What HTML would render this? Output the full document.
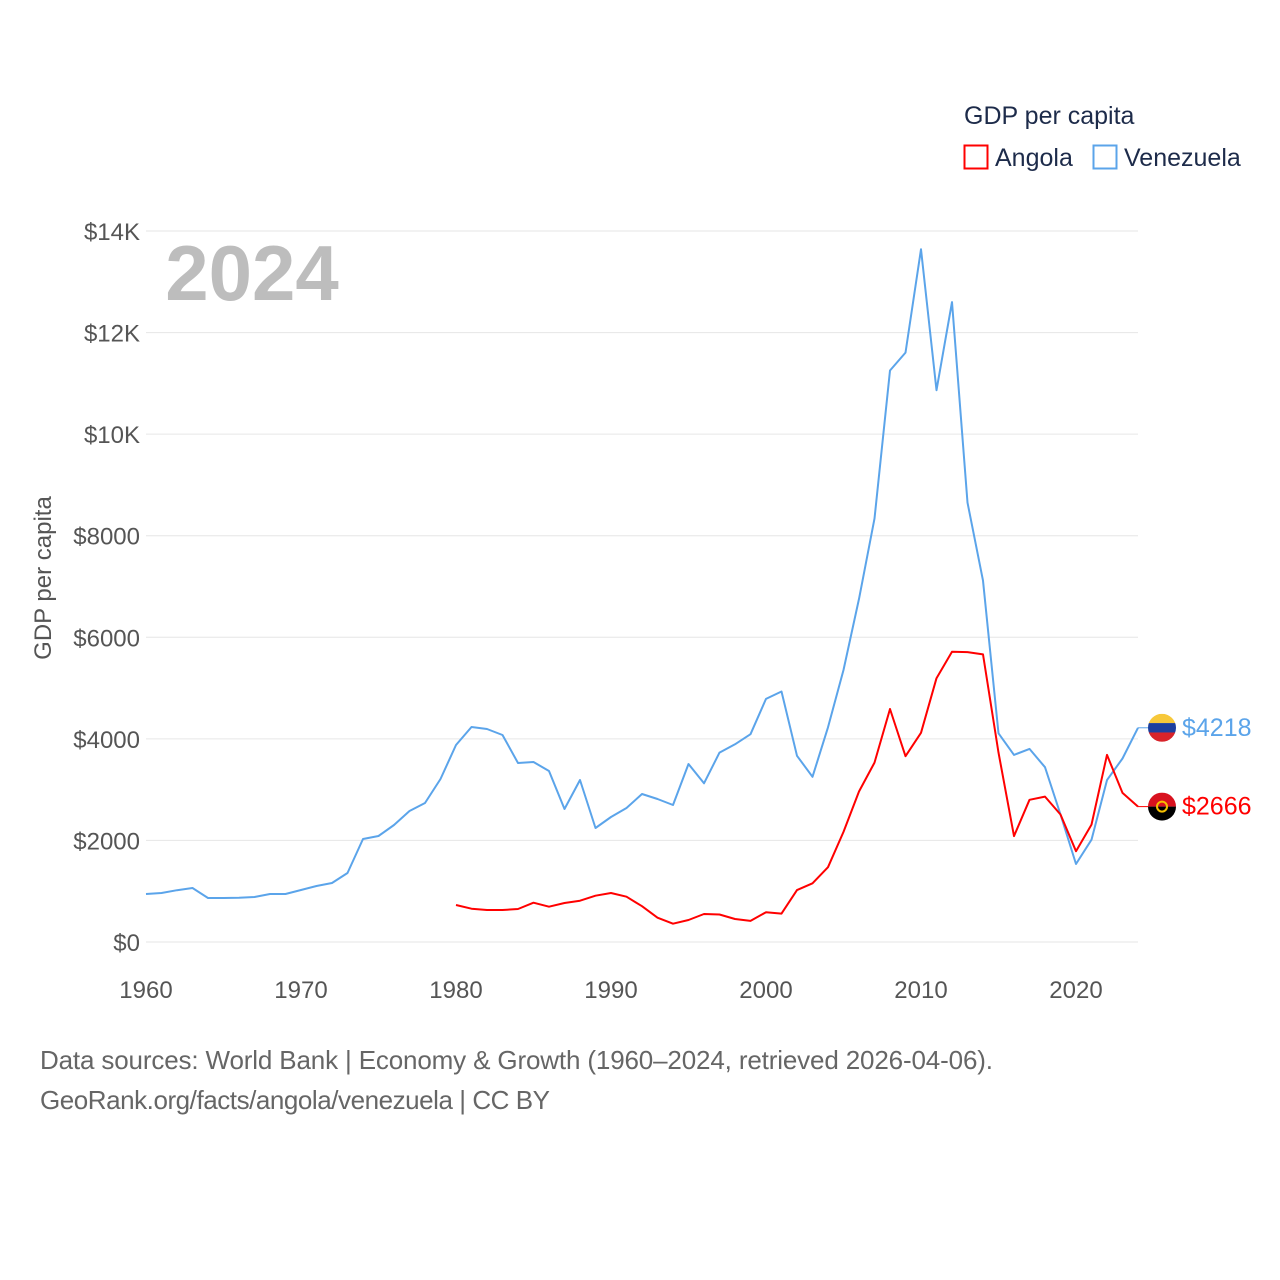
<!DOCTYPE html>
<html><head><meta charset="utf-8"><style>
html,body{margin:0;padding:0;background:#fff;}
svg{display:block;font-family:"Liberation Sans",sans-serif;}
</style></head><body>
<svg id="chart" width="1280" height="1280" viewBox="0 0 1280 1280">
<g id="grid"></g>
<g id="yticks"></g>
<g id="xticks"></g>
<text x="252" y="300" text-anchor="middle" font-size="78" font-weight="bold" fill="#bdbdbd">2024</text>
<text transform="translate(51,578) rotate(-90)" text-anchor="middle" font-size="24" fill="#555">GDP per capita</text>
<g>
<text x="964" y="124" font-size="25" fill="#1d2b4a">GDP per capita</text>
<g><rect x="964.5" y="145.5" width="23" height="23" fill="none" stroke="#f00" stroke-width="2"/><text x="995" y="166" font-size="25" fill="#1d2b4a">Angola</text></g>
<g><rect x="1093.5" y="145.5" width="23" height="23" fill="none" stroke="#5ba4ea" stroke-width="2"/><text x="1124" y="166" font-size="25" fill="#1d2b4a">Venezuela</text></g>
</g>
<g id="series"></g>
<g id="ends"></g>
<text x="40" y="1069" font-size="26" fill="#666" textLength="953">Data sources: World Bank | Economy &amp; Growth (1960–2024, retrieved 2026-04-06).</text>
<text x="40" y="1109" font-size="26" fill="#666" textLength="510">GeoRank.org/facts/angola/venezuela | CC BY</text>
</svg>
<script>
const yTicks=[0,2000,4000,6000,8000,10000,12000,14000];
const yTickLabels=["$0","$2000","$4000","$6000","$8000","$10K","$12K","$14K"];
const xTicks=[1960,1970,1980,1990,2000,2010,2020];
const venYears=[1960,1961,1962,1963,1964,1965,1966,1967,1968,1969,1970,1971,1972,1973,1974,1975,1976,1977,1978,1979,1980,1981,1982,1983,1984,1985,1986,1987,1988,1989,1990,1991,1992,1993,1994,1995,1996,1997,1998,1999,2000,2001,2002,2003,2004,2005,2006,2007,2008,2009,2010,2011,2012,2013,2014,2015,2016,2017,2018,2019,2020,2021,2022,2023,2024];
const venezuela=[945,965,1020,1063,866,866,870,886,945,945,1024,1103,1162,1359,2028,2087,2304,2579,2737,3209,3879,4233,4194,4076,3524,3544,3367,2619,3190,2245,2461,2638,2914,2816,2697,3505,3125,3730,3893,4092,4787,4932,3667,3252,4227,5356,6756,8337,11254,11606,13639,10866,12600,8653,7117,4110,3685,3803,3441,2511,1535,2014,3188,3613,4218];
const angYears=[1980,1981,1982,1983,1984,1985,1986,1987,1988,1989,1990,1991,1992,1993,1994,1995,1996,1997,1998,1999,2000,2001,2002,2003,2004,2005,2006,2007,2008,2009,2010,2011,2012,2013,2014,2015,2016,2017,2018,2019,2020,2021,2022,2023,2024];
const angola=[728,656,630,630,650,774,695,767,813,912,965,892,704,479,361,434,551,542,452,415,587,560,1021,1156,1472,2168,2963,3532,4588,3658,4119,5194,5717,5708,5663,3730,2086,2800,2863,2511,1788,2312,3685,2935,2666];

const NS="http://www.w3.org/2000/svg";
const X=y=>146+(y-1960)*15.5;
const Y=v=>942-v*711/14000;
function mk(tag,attrs,parent){const e=document.createElementNS(NS,tag);for(const k in attrs)e.setAttribute(k,attrs[k]);parent.appendChild(e);return e;}
const grid=document.getElementById('grid'),yt=document.getElementById('yticks'),xt=document.getElementById('xticks');
yTicks.forEach((v,i)=>{
 const l=mk('line',{x1:146,x2:1138,y1:Y(v),y2:Y(v),stroke:'#e6e6e6','stroke-width':1},grid);
 
 
 const t=mk('text',{x:140,y:Y(v)+9,'text-anchor':'end','font-size':24,fill:'#555'},yt);
 t.textContent=yTickLabels[i];
 
 
});
xTicks.forEach(v=>{
 const t=mk('text',{x:X(v),y:998,'text-anchor':'middle','font-size':24,fill:'#555'},xt);
 t.textContent=v;
 
 
});
const ser=document.getElementById('series');
function line(years,vals,color,name){
 const d=years.map((y,i)=>(i?'L':'M')+X(y).toFixed(1)+','+Y(vals[i]).toFixed(1)).join('');
 const p=mk('path',{d:d,fill:'none',stroke:color,'stroke-width':2,'stroke-linejoin':'round'},ser);
 
 
}
line(venYears,venezuela,'#5ba4ea','venezuela-line');
line(angYears,angola,'#ff0000','angola-line');
const ends=document.getElementById('ends');
function endLabel(years,vals,color,name,flag){
 const yr=years[years.length-1],v=vals[vals.length-1];
 const x=X(yr),y=Y(v);
 mk('line',{x1:x,x2:x+10,y1:y,y2:y,stroke:color,'stroke-width':1},ends);
 const g=mk('g',{},ends);
 
 
 const cx=x+24;
 if(flag==='ven'){
  mk('clipPath',{id:'cv'},g);
  const cp=g.lastChild;mk('circle',{cx:cx,cy:y,r:14},cp);
  mk('rect',{x:cx-14,y:y-14,width:28,height:9.4,fill:'#f7c83a','clip-path':'url(#cv)'},g);
  mk('rect',{x:cx-14,y:y-4.7,width:28,height:9.4,fill:'#1d3f9e','clip-path':'url(#cv)'},g);
  mk('rect',{x:cx-14,y:y+4.7,width:28,height:9.4,fill:'#d8232a','clip-path':'url(#cv)'},g);
 }else{
  mk('clipPath',{id:'ca'},g);
  const cp=g.lastChild;mk('circle',{cx:cx,cy:y,r:14},cp);
  mk('rect',{x:cx-14,y:y-14,width:28,height:14,fill:'#d8121f','clip-path':'url(#ca)'},g);
  mk('rect',{x:cx-14,y:y,width:28,height:14,fill:'#000','clip-path':'url(#ca)'},g);
  mk('circle',{cx:cx,cy:y,r:5,fill:'none',stroke:'#f6c000','stroke-width':2},g);
 }
 const t=mk('text',{x:x+44,y:y+8,'font-size':25,fill:color},ends);
 t.textContent='$'+v;
 
 
}
endLabel(venYears,venezuela,'#5ba4ea','venezuela','ven');
endLabel(angYears,angola,'#ff0000','angola','ang');
</script>
</body></html>
